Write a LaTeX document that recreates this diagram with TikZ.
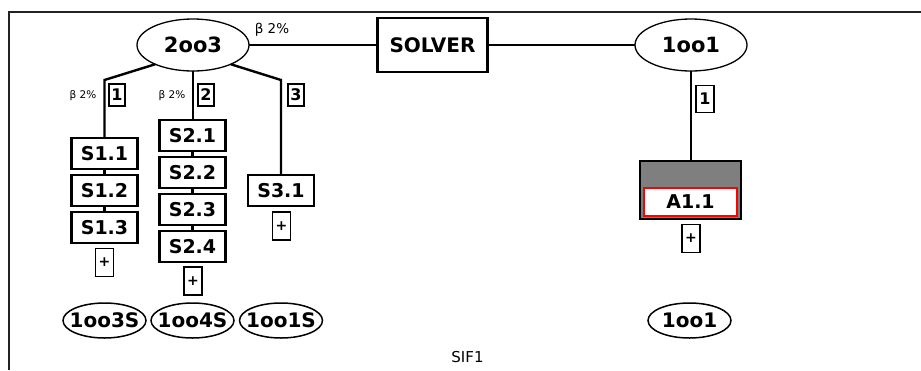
\documentclass[tikz,border=0pt]{standalone}
\usepackage{fontspec}
\setmainfont{DejaVu Sans}
\usetikzlibrary{shapes.geometric}
\definecolor{boxgray}{HTML}{7F7F7F}
\definecolor{framegray}{HTML}{222222}
\tikzset{
  every node/.style={inner sep=0pt, outer sep=0pt},
  topell/.style={ellipse, draw, line width=1.3pt, minimum width=112pt, minimum height=52pt,
    font=\bfseries\fontsize{21}{21}\selectfont},
  topbox/.style={rectangle, draw, line width=2.2pt, minimum width=110pt, minimum height=54pt,
    font=\bfseries\fontsize{20}{20}\selectfont},
  sbox/.style={rectangle, draw, line width=2.1pt, minimum width=66pt, minimum height=31pt,
    font=\bfseries\fontsize{19}{19}\selectfont},
  numbox/.style={rectangle, draw, line width=1.6pt, minimum width=16pt, minimum height=22pt,
    font=\bfseries\fontsize{16}{16}\selectfont},
  plusbox/.style={rectangle, draw, line width=1.6pt, minimum width=18pt, minimum height=28pt,
    font=\bfseries\fontsize{14}{14}\selectfont},
  botell/.style={ellipse, draw, line width=1.5pt, minimum width=83pt, minimum height=35pt,
    label={[font=\bfseries\fontsize{20}{20}\selectfont]center:#1}},
  beta/.style={font=\fontsize{10.5}{10.5}\selectfont},
  wire/.style={line width=2.4pt},
  thinwire/.style={line width=1.6pt},
}
\begin{document}
\begin{tikzpicture}[x=1pt, y=-1pt]
\useasboundingbox (0,0) rectangle (921,370);
% frame
\draw[line width=2pt, framegray] (9,370) -- (9,11.5) -- (921,11.5);

% top row
\node[topell] (e2oo3) at (193,45) {2oo3};
\node[topbox] (solver) at (432.5,45) {SOLVER};
\node[topell] (e1oo1) at (691,45) {1oo1};
\node[font=\fontsize{13.5}{13.5}\selectfont] (btop) at (272,30) {β 2\%};
\draw[thinwire] (e2oo3.east) -- (solver.west);
\draw[thinwire] (solver.east) -- (e1oo1.west);

% branch 1
\node[sbox] (s11) at (104.5,153.5) {S1.1};
\node[sbox] (s12) at (104.5,190.5) {S1.2};
\node[sbox] (s13) at (104.5,227.5) {S1.3};
\node[plusbox] (p1) at (104.5,262.5) {+};
\coordinate (k1) at (104.5,80);
\draw[wire] (e2oo3.207) -- (k1) -- (s11.north);
\draw[wire] (s11.south) -- (s12.north);
\draw[wire] (s12.south) -- (s13.north);
\node[numbox] (n1) at (117,95) {1};
\node[beta] (b1) at (83,96) {β 2\%};

% branch 2
\node[sbox] (s21) at (192.5,135.5) {S2.1};
\node[sbox] (s22) at (192.5,172.5) {S2.2};
\node[sbox] (s23) at (192.5,209.5) {S2.3};
\node[sbox] (s24) at (192.5,246.5) {S2.4};
\node[plusbox] (p2) at (193,281) {+};
\draw[wire] (e2oo3.south) -- (e2oo3.south |- s21.north);
\draw[wire] (s21.south) -- (s22.north);
\draw[wire] (s22.south) -- (s23.north);
\draw[wire] (s23.south) -- (s24.north);
\node[numbox] (n2) at (206,95) {2};
\node[beta] (b2) at (172,96) {β 2\%};

% branch 3
\node[sbox] (s31) at (281,190.5) {S3.1};
\node[plusbox] (p3) at (281.5,226) {+};
\coordinate (k3) at (281,80);
\draw[wire] (e2oo3.333) -- (k3) -- (s31.north);
\node[numbox] (n3) at (296,95) {3};

% right branch
\node[rectangle, draw, line width=1.8pt, fill=boxgray, minimum width=101pt, minimum height=58pt] (a11) at (690.5,190) {};
\node[rectangle, draw=red, fill=white, line width=1.5pt, minimum width=93pt, minimum height=28pt,
  font=\bfseries\fontsize{19}{19}\selectfont] (a11t) at (690.5,202) {A1.1};
\node[plusbox] (p4) at (691,238.5) {+};
\draw[wire] (e1oo1.south) -- (e1oo1.south |- a11.north);
\node[numbox, minimum width=18pt, minimum height=27pt] (n4) at (705,99) {1};

% bottom ellipses
\node[botell=1oo3S] (v1) at (104.5,320.5) {};
\node[botell=1oo4S] (v2) at (192.5,320.5) {};
\node[botell=1oo1S] (v3) at (281,320.5) {};
\node[botell=1oo1] (v4) at (689.5,320.5) {};

\node[font=\fontsize{15}{15}\selectfont] (sif) at (467.5,357.5) {SIF1};
\end{tikzpicture}
\end{document}
